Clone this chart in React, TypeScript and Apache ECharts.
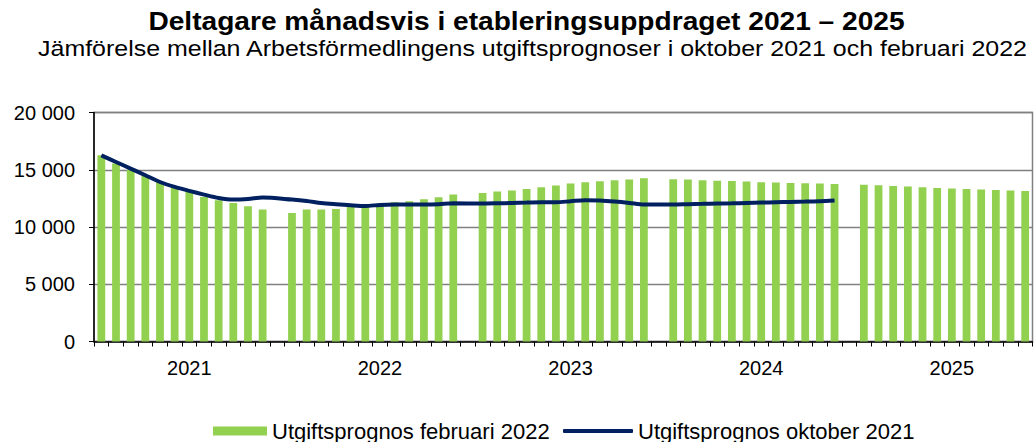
import React, { useEffect, useRef } from "react";
import * as echarts from "echarts";

const years = ["2021", "2022", "2023", "2024", "2025"];

const feb2022_2021 = [16260, 15540, 15000, 14520, 13930, 13500, 13060, 12620, 12340, 12100, 11810, 11520];
const feb2022_2022 = [11230, 11520, 11520, 11580, 11750, 11810, 12050, 12160, 12250, 12420, 12600, 12830];
const feb2022_2023 = [12970, 13090, 13180, 13320, 13470, 13620, 13790, 13900, 13990, 14080, 14140, 14250];
const feb2022_2024 = [14170, 14140, 14080, 14050, 14020, 13970, 13900, 13880, 13850, 13820, 13790, 13760];
const feb2022_2025 = [13700, 13640, 13580, 13530, 13470, 13410, 13360, 13320, 13270, 13240, 13180, 13150];

const okt2021_2021 = [16260, 15680, 15100, 14520, 13930, 13500, 13150, 12830, 12540, 12400, 12450, 12570];
const okt2021_2022 = [12400, 12280, 12100, 11990, 11900, 11840, 11930, 11960, 11960, 11960, 11990, 12070];
const okt2021_2023 = [12050, 12070, 12100, 12130, 12160, 12160, 12250, 12340, 12310, 12220, 12100, 11960];
const okt2021_2024 = [11960, 11990, 12020, 12050, 12070, 12100, 12130, 12160, 12190, 12220, 12250, 12310];
const okt2021_2025: (number | null)[] = [null, null, null, null, null, null, null, null, null, null, null, null];

const barName = "Utgiftsprognos februari 2022";
const lineName = "Utgiftsprognos oktober 2021";
const titleText = "Deltagare månadsvis i etableringsuppdraget 2021 – 2025";
const subtitleText = "Jämförelse mellan Arbetsförmedlingens utgiftsprognoser i oktober 2021 och februari 2022";

const barYears = [feb2022_2021, feb2022_2022, feb2022_2023, feb2022_2024, feb2022_2025];
const lineYears = [okt2021_2021, okt2021_2022, okt2021_2023, okt2021_2024, okt2021_2025];

// Build the category axis: 12 months per year, plus an empty slot between years
const categories: string[] = [];
const yearLabelAt: Record<number, string> = {};
const barData: (number | null)[] = [];
const lineData: (number | null)[] = [];
years.forEach((y, yi) => {
  for (let m = 0; m < 12; m++) {
    const idx = categories.length;
    categories.push(`${y}-${String(m + 1).padStart(2, "0")}`);
    if (m === 6) yearLabelAt[idx] = y;
    barData.push(barYears[yi][m]);
    lineData.push(lineYears[yi][m]);
  }
  if (yi < years.length - 1) {
    categories.push(`gap-${y}`);
    barData.push(null);
    lineData.push(null);
  }
});

const fmt = (v: number) => {
  if (v >= 1000) {
    return `${Math.floor(v / 1000)} ${String(v % 1000).padStart(3, "0")}`;
  }
  return String(v);
};

export default function App() {
  const ref = useRef<HTMLDivElement>(null);
  useEffect(() => {
    document.body.style.margin = "0";
    if (!ref.current) return;
    const chart = echarts.init(ref.current, null, { renderer: "svg" });
    const font = "Arial, 'Liberation Sans', sans-serif";
    chart.setOption({
      animation: false,
      textStyle: { fontFamily: font },
      graphic: [
        {
          type: "text",
          x: 526.5,
          y: 9,
          scaleX: 1.125,
          style: {
            text: titleText,
            textAlign: "center",
            fill: "#000",
            font: `bold 25px ${font}`,
          },
        },
        {
          type: "text",
          x: 532.5,
          y: 38,
          scaleX: 1.135,
          style: {
            text: subtitleText,
            textAlign: "center",
            fill: "#000",
            font: `22px ${font}`,
          },
        },
      ],
      grid: {
        left: 94,
        right: 2.5,
        top: 112.5,
        bottom: 100.5,
        show: true,
        borderColor: "#808080",
        borderWidth: 1.5,
      },
      legend: [
        {
          data: [{ name: barName, icon: "rect" }],
          left: 213,
          top: 420,
          padding: 0,
          itemWidth: 54,
          itemHeight: 9,
          textStyle: { fontSize: 22, color: "#000", fontFamily: font },
        },
        {
          data: [{ name: lineName, icon: "roundRect" }],
          left: 563,
          top: 420,
          padding: 0,
          itemWidth: 70,
          itemHeight: 4,
          textStyle: { fontSize: 22, color: "#000", fontFamily: font },
        },
      ],
      xAxis: {
        type: "category",
        data: categories,
        boundaryGap: true,
        axisLine: { lineStyle: { color: "#000", width: 1.5 } },
        axisTick: { show: true, interval: 0, length: 5, lineStyle: { color: "#000" } },
        axisLabel: {
          interval: 0,
          margin: 16,
          fontSize: 20,
          color: "#000",
          fontFamily: font,
          formatter: (_v: string, i: number) => yearLabelAt[i] ?? "",
        },
        splitLine: { show: false },
      },
      yAxis: {
        type: "value",
        min: 0,
        max: 20000,
        interval: 5000,
        axisLine: { show: true, lineStyle: { color: "#000", width: 1.5 } },
        axisTick: { show: true, length: 5, lineStyle: { color: "#000" } },
        axisLabel: {
          margin: 19,
          fontSize: 20,
          color: "#000",
          fontFamily: font,
          formatter: (v: number) => fmt(v),
        },
        splitLine: { show: true, lineStyle: { color: "#808080", width: 1.3 } },
      },
      series: [
        {
          name: barName,
          type: "bar",
          data: barData,
          barCategoryGap: "47%",
          itemStyle: { color: "#92D050" },
        },
        {
          name: lineName,
          type: "line",
          data: lineData,
          connectNulls: true,
          smooth: 0.3,
          symbol: "none",
          lineStyle: { color: "#002060", width: 4 },
          itemStyle: { color: "#002060" },
        },
      ],
    });
    return () => chart.dispose();
  }, []);
  return <div ref={ref} style={{ width: 1035, height: 442 }} />;
}
